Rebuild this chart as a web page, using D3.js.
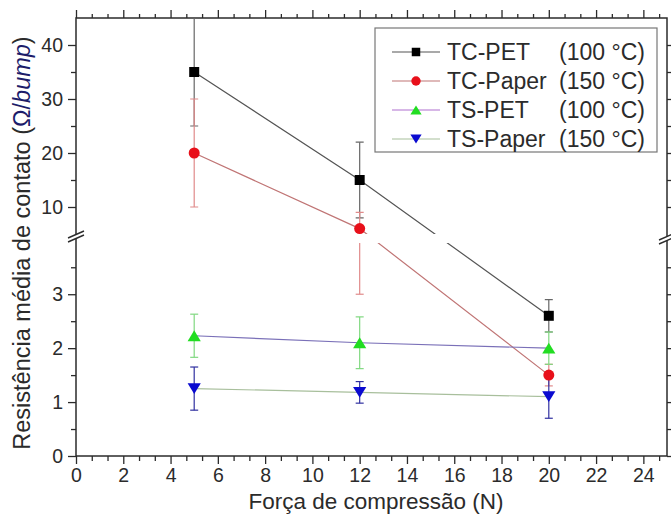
<!DOCTYPE html>
<html>
<head>
<meta charset="utf-8">
<script src="https://cdn.jsdelivr.net/npm/d3@7"></script>
<style>
  body { margin: 0; background: #fff; }
  svg { display: block; font-family: "Liberation Sans", Arial, sans-serif; }
</style>
</head>
<body>
<div id="plot"></div>
<script>
// data
var forces = [5, 12, 20];
var seriesNames = ["TC-PET", "TC-Paper", "TS-PET", "TS-Paper"];
var seriesTemps = ["(100 °C)", "(150 °C)", "(100 °C)", "(150 °C)"];
var tcPet = [35, 15, 2.6];
var tcPetErr = [10, 7, 0.3];
var tcPaper = [20, 6, 1.5];
var tcPaperErr = [10, 3, 0.2];
var tsPet = [2.23, 2.1, 2.0];
var tsPetErr = [0.4, 0.48, 0.3];
var tsPaper = [1.25, 1.18, 1.1];
var tsPaperErr = [0.4, 0.2, 0.4];

var xTicks = [0, 2, 4, 6, 8, 10, 12, 14, 16, 18, 20, 22, 24];
var yTicksLow = [0, 1, 2, 3];
var yTicksHigh = [10, 20, 30, 40];

// styles per series
var styles = [
  {line: "#555", err: "#666", fill: "#000", sym: "square"},
  {line: "#c07575", err: "#e08a8a", fill: "#e8101a", sym: "circle"},
  {line: "#7a70b8", err: "#80d880", fill: "#22dd22", sym: "triangle"},
  {line: "#a8bf9c", err: "#3030a0", fill: "#0a0ad0", sym: "triangleDown"}
];
var values = [tcPet, tcPaper, tsPet, tsPaper];
var errors = [tcPetErr, tcPaperErr, tsPetErr, tsPaperErr];

var W = 671, H = 521;
var pLeft = 76, pRight = 667, pTop = 18, pBottom = 456;
var gapTop = 234, gapBottom = 243;
var ink = "#2b2b2b";

var svg = d3.select("#plot").append("svg").attr("width", W).attr("height", H);

// scales (broken y axis: 0-3.95 below, 5-45 above)
var xScale = d3.scaleLinear().domain([0, 25]).range([pLeft, pRight]);
var yScale = d3.scaleLinear().domain([0, 3.95, 5, 45]).range([pBottom, gapBottom, gapTop, pTop]);

var xMinor = d3.range(0, 38).filter(function(i) { return i % 3 !== 0; }).map(function(i) { return i * 2 / 3; });
var yMinor = [0.5, 1.5, 2.5, 3.5, 15, 25, 35];
var yMajor = yTicksLow.concat(yTicksHigh);

function styleAxis(g) {
  g.selectAll("path.domain").remove();
  g.selectAll("line").attr("stroke", ink).attr("stroke-width", 1.3);
  g.selectAll("text").attr("fill", ink).style("font-size", "19.5px").style("font-family", "Liberation Sans, Arial, sans-serif");
}

// bottom axis
svg.append("g").attr("transform", "translate(0," + pBottom + ")")
  .call(d3.axisBottom(xScale).tickValues(xTicks).tickSize(8).tickPadding(4).tickFormat(d3.format("d")))
  .call(styleAxis);
svg.append("g").attr("transform", "translate(0," + pBottom + ")")
  .call(d3.axisBottom(xScale).tickValues(xMinor).tickSize(5).tickFormat(""))
  .call(styleAxis);
// top axis
svg.append("g").attr("transform", "translate(0," + pTop + ")")
  .call(d3.axisTop(xScale).tickValues(xTicks).tickSize(8).tickFormat(""))
  .call(styleAxis);
svg.append("g").attr("transform", "translate(0," + pTop + ")")
  .call(d3.axisTop(xScale).tickValues(xMinor).tickSize(4).tickFormat(""))
  .call(styleAxis);
// left axis
svg.append("g").attr("transform", "translate(" + pLeft + ",0)")
  .call(d3.axisLeft(yScale).tickValues(yMajor).tickSize(8).tickPadding(5).tickFormat(d3.format("d")))
  .call(styleAxis);
svg.append("g").attr("transform", "translate(" + pLeft + ",0)")
  .call(d3.axisLeft(yScale).tickValues(yMinor).tickSize(5).tickFormat(""))
  .call(styleAxis);
// right axis
svg.append("g").attr("transform", "translate(" + pRight + ",0)")
  .call(d3.axisRight(yScale).tickValues(yMajor.concat(yMinor)).tickSize(7).tickFormat(""))
  .call(styleAxis);

// frame
svg.append("rect")
  .attr("x", pLeft).attr("y", pTop)
  .attr("width", pRight - pLeft).attr("height", pBottom - pTop)
  .attr("fill", "none").attr("stroke", ink).attr("stroke-width", 1.5);

// clip out the break band
var clip = svg.append("clipPath").attr("id", "brk");
clip.append("rect").attr("x", pLeft).attr("y", pTop).attr("width", pRight - pLeft).attr("height", gapTop - pTop);
clip.append("rect").attr("x", pLeft).attr("y", gapBottom).attr("width", pRight - pLeft).attr("height", pBottom - gapBottom);

var dataG = svg.append("g").attr("clip-path", "url(#brk)");

var line = d3.line()
  .x(function(d) { return xScale(d.x); })
  .y(function(d) { return yScale(d.y); });

function symbolPath(sym, s) {
  if (sym === "square") return "M" + (-s / 2) + "," + (-s / 2) + "h" + s + "v" + s + "h" + (-s) + "Z";
  if (sym === "triangle") return "M0," + (-s * 0.45) + "L" + (s * 0.55) + "," + (s * 0.45) + "L" + (-s * 0.55) + "," + (s * 0.45) + "Z";
  if (sym === "triangleDown") return "M0," + (s * 0.45) + "L" + (s * 0.55) + "," + (-s * 0.45) + "L" + (-s * 0.55) + "," + (-s * 0.45) + "Z";
  return null;
}

values.forEach(function(vals, k) {
  var st = styles[k];
  var pts = forces.map(function(f, i) { return {x: f, y: vals[i], e: errors[k][i]}; });

  dataG.append("path").datum(pts)
    .attr("d", line).attr("fill", "none")
    .attr("stroke", st.line).attr("stroke-width", 1.2);

  var eb = dataG.append("g");
  pts.forEach(function(p) {
    var x = xScale(p.x), y1 = yScale(p.y + p.e), y0 = yScale(p.y - p.e);
    eb.append("line").attr("x1", x).attr("x2", x).attr("y1", y1).attr("y2", y0)
      .attr("stroke", st.err).attr("stroke-width", 1.2);
    [y1, y0].forEach(function(yy) {
      eb.append("line").attr("x1", x - 4).attr("x2", x + 4).attr("y1", yy).attr("y2", yy)
        .attr("stroke", st.err).attr("stroke-width", 1.2);
    });
  });
});

function drawSymbol(g, sym, fill, x, y, scale) {
  if (sym === "circle") {
    g.append("circle").attr("cx", x).attr("cy", y).attr("r", 5.5 * scale).attr("fill", fill);
  } else {
    var s = (sym === "square" ? 10 : 12) * scale;
    g.append("path").attr("d", symbolPath(sym, s))
      .attr("transform", "translate(" + x + "," + y + ")").attr("fill", fill);
  }
}

var markG = svg.append("g");
values.forEach(function(vals, k) {
  forces.forEach(function(f, i) {
    drawSymbol(markG, styles[k].sym, styles[k].fill, xScale(f), yScale(vals[i]), 1);
  });
});

// axis break marks
function breakMark(x, yc) {
  var g = svg.append("g");
  g.append("path")
    .attr("d", "M" + (x - 8) + "," + (yc + 2) + "L" + (x + 8) + "," + (yc - 5) + "L" + (x + 8) + "," + (yc - 1) + "L" + (x - 8) + "," + (yc + 6) + "Z")
    .attr("fill", "#fff");
  [0, 4].forEach(function(o) {
    g.append("line")
      .attr("x1", x - 8).attr("y1", yc + 2 + o)
      .attr("x2", x + 8).attr("y2", yc - 5 + o)
      .attr("stroke", ink).attr("stroke-width", 1.4);
  });
}
breakMark(pLeft, 236);
breakMark(pRight, 238);

// legend
var lg = svg.append("g");
lg.append("rect").attr("x", 375).attr("y", 28).attr("width", 282).attr("height", 124)
  .attr("fill", "#fff").attr("stroke", "#777").attr("stroke-width", 1.2);
seriesNames.forEach(function(name, k) {
  var cy = 52 + k * 29;
  lg.append("line").attr("x1", 392).attr("x2", 440).attr("y1", cy).attr("y2", cy)
    .attr("stroke", k === 2 ? "#b070d0" : styles[k].line).attr("stroke-width", 1.2);
  drawSymbol(lg, styles[k].sym, styles[k].fill, 416, cy, 0.85);
  lg.append("text").attr("x", 447).attr("y", cy + 8)
    .attr("fill", ink).style("font-size", "23px").text(name);
  lg.append("text").attr("x", 645).attr("y", cy + 8).attr("text-anchor", "end")
    .attr("fill", ink).style("font-size", "23px").text(seriesTemps[k]);
});

// axis titles
svg.append("text").attr("x", 376).attr("y", 509).attr("text-anchor", "middle")
  .attr("fill", ink).style("font-size", "22.5px").text("Força de compressão (N)");

var yt = svg.append("text").attr("transform", "translate(30,243) rotate(-90)")
  .attr("text-anchor", "middle").attr("fill", ink).style("font-size", "23.5px");
yt.append("tspan").text("Resistência média de contato (");
yt.append("tspan").attr("fill", "#1c1c6a").text("Ω/");
yt.append("tspan").attr("fill", "#1c1c6a").style("font-style", "italic").text("bump");
yt.append("tspan").text(")");
</script>
</body>
</html>
